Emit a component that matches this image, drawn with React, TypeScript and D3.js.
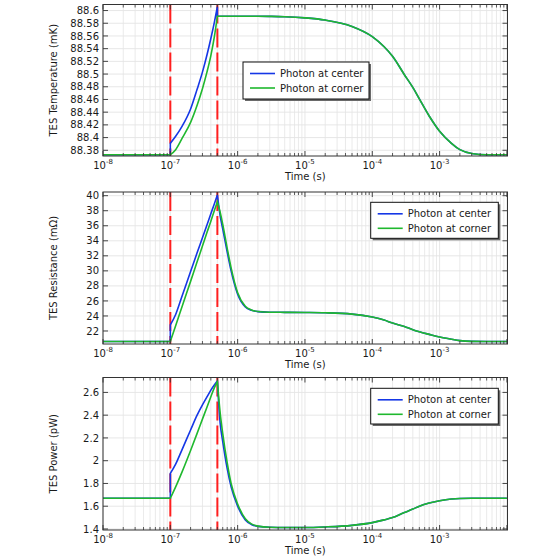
import React from 'react';
import * as d3 from 'd3';

// ---------- data ----------
const TIME = [1e-8, 1e-7, 1e-7, 1.2e-7, 1.5e-7, 2e-7, 2.5e-7, 3e-7, 3.5e-7, 4e-7, 4.5e-7, 5e-7, 5e-7,
  5.5e-7, 6e-7, 7e-7, 8e-7, 1e-6, 1.3e-6, 1.6e-6, 2e-6, 3e-6, 5e-6, 1e-5, 2e-5, 5e-5, 1e-4, 1.5e-4,
  2e-4, 3e-4, 4e-4, 5e-4, 7e-4, 1e-3, 1.5e-3, 2e-3, 3e-3, 5e-3, 1e-2];

const TEMP_CENTER = [88.373, 88.373, 88.391, 88.402, 88.418, 88.445, 88.476, 88.503, 88.530, 88.556, 88.581, 88.606, 88.591,
  88.591, 88.591, 88.591, 88.591, 88.591, 88.591, 88.591, 88.591, 88.5908, 88.5903, 88.5885, 88.585, 88.575, 88.559, 88.543,
  88.528, 88.499, 88.479, 88.461, 88.434, 88.410, 88.391, 88.381, 88.375, 88.373, 88.373];
const TEMP_CORNER = [88.373, 88.373, 88.373, 88.381, 88.399, 88.424, 88.451, 88.477, 88.503, 88.529, 88.558, 88.591, 88.591,
  88.591, 88.591, 88.591, 88.591, 88.591, 88.591, 88.591, 88.591, 88.5908, 88.5903, 88.5885, 88.585, 88.575, 88.559, 88.543,
  88.528, 88.499, 88.479, 88.461, 88.434, 88.410, 88.391, 88.381, 88.375, 88.373, 88.373];

const RES_CENTER = [20.6, 20.6, 22.8, 24.2, 26.7, 29.9, 32.4, 34.4, 36.1, 37.6, 38.9, 40.1, 40.1,
  37.3, 35.6, 32.5, 30.0, 26.9, 25.2, 24.75, 24.58, 24.5, 24.48, 24.46, 24.42, 24.25, 23.85, 23.45,
  23.05, 22.6, 22.17, 21.9, 21.55, 21.2, 20.9, 20.72, 20.62, 20.6, 20.6];
const RES_CORNER = [20.6, 20.6, 20.6, 22.7, 25.3, 28.6, 31.2, 33.3, 35.1, 36.6, 38.0, 39.2, 39.2,
  37.8, 36.2, 33.0, 30.4, 27.1, 25.3, 24.8, 24.6, 24.5, 24.48, 24.46, 24.42, 24.25, 23.85, 23.45,
  23.05, 22.6, 22.17, 21.9, 21.55, 21.2, 20.9, 20.72, 20.62, 20.6, 20.6];

const POW_CENTER = [1.67, 1.67, 1.888, 1.97, 2.10, 2.27, 2.40, 2.49, 2.56, 2.62, 2.665, 2.70, 2.70,
  2.33, 2.17, 1.93, 1.77, 1.60, 1.48, 1.44, 1.423, 1.415, 1.413, 1.413, 1.418, 1.432, 1.456, 1.48,
  1.50, 1.545, 1.575, 1.60, 1.628, 1.648, 1.663, 1.668, 1.67, 1.67, 1.67];
const POW_CORNER = [1.67, 1.67, 1.67, 1.77, 1.904, 2.09, 2.24, 2.365, 2.47, 2.562, 2.64, 2.695, 2.695,
  2.42, 2.24, 1.98, 1.80, 1.62, 1.49, 1.445, 1.425, 1.415, 1.413, 1.413, 1.418, 1.432, 1.456, 1.48,
  1.50, 1.545, 1.575, 1.60, 1.628, 1.648, 1.663, 1.668, 1.67, 1.67, 1.67];

const TEMP_TICKS = [88.38, 88.4, 88.42, 88.44, 88.46, 88.48, 88.5, 88.52, 88.54, 88.56, 88.58, 88.6];
const TEMP_LABELS = ['88.38', '88.4', '88.42', '88.44', '88.46', '88.48', '88.5', '88.52', '88.54', '88.56', '88.58', '88.6'];
const RES_TICKS = [22, 24, 26, 28, 30, 32, 34, 36, 38, 40];
const RES_LABELS = ['22', '24', '26', '28', '30', '32', '34', '36', '38', '40'];
const POW_TICKS = [1.4, 1.6, 1.8, 2, 2.2, 2.4, 2.6];
const POW_LABELS = ['1.4', '1.6', '1.8', '2', '2.2', '2.4', '2.6'];

const X_EXPONENTS = [-8, -7, -6, -5, -4, -3, -2];
const X_LABELED = [-8, -7, -6, -5, -4, -3];
const PULSE_TIMES = [1e-7, 5e-7];
const SERIES_NAMES = ['Photon at center', 'Photon at corner'];

const TEMP_DOMAIN = [88.371, 88.6095];
const RES_DOMAIN = [20.27, 40.49];
const POW_DOMAIN = [1.391, 2.731];
const X_DOMAIN = [1e-8, 1.02e-2];

// ---------- styles ----------
const FONT = '"DejaVu Sans", Verdana, sans-serif';
const BLUE = '#1537e6';
const GREEN = '#1fb82e';
const RED = '#ff1f1f';
const GRID = '#e4e4e4';
const FRAME = '#333333';
const TEXT = '#1a1a1a';

const X_LEFT = 103;
const X_RIGHT = 507.5;

type PanelProps = {
  top: number;
  bottom: number;
  domain: number[];
  ticks: number[];
  labels: string[];
  title: string;
  center: number[];
  corner: number[];
  legend: { x: number; y: number; w: number; h: number };
};

function buildPath(ts: number[], vs: number[], x: any, y: any) {
  const segs: [number, number][][] = [];
  let cur: [number, number][] = [];
  ts.forEach((t, i) => {
    if (i > 0 && t === ts[i - 1]) {
      segs.push(cur);
      cur = [];
    }
    cur.push([x(t), y(vs[i])]);
  });
  segs.push(cur);
  const gen = d3.line<[number, number]>().x(d => d[0]).y(d => d[1]).curve(d3.curveMonotoneX);
  return segs.map((s, i) => {
    const p = gen(s) || '';
    return i === 0 ? p : p.replace(/^M/, 'L');
  }).join('');
}

function Panel(props: PanelProps) {
  const { top, bottom, domain, ticks, labels, title, center, corner, legend } = props;
  const x = d3.scaleLog().domain(X_DOMAIN).range([X_LEFT, X_RIGHT]);
  const y = d3.scaleLinear().domain(domain).range([bottom, top]);
  const minors: number[] = [];
  X_EXPONENTS.forEach(e => {
    for (let k = 2; k <= 9; k++) {
      const v = k * Math.pow(10, e);
      if (v <= X_DOMAIN[1]) minors.push(v);
    }
  });
  const majors = X_EXPONENTS.map(e => Math.pow(10, e)).filter(v => v <= X_DOMAIN[1] * 1.0001);
  const midY = (top + bottom) / 2;
  const midX = (X_LEFT + X_RIGHT) / 2;
  return (
    <g>
      {/* grid */}
      {minors.map((v, i) => (
        <line key={'gm' + i} x1={x(v)} x2={x(v)} y1={top} y2={bottom} stroke={GRID} strokeWidth={0.8} />
      ))}
      {majors.map((v, i) => (
        <line key={'gM' + i} x1={x(v)} x2={x(v)} y1={top} y2={bottom} stroke={GRID} strokeWidth={0.9} />
      ))}
      {ticks.map((v, i) => (
        <line key={'gy' + i} x1={X_LEFT} x2={X_RIGHT} y1={y(v)} y2={y(v)} stroke={GRID} strokeWidth={0.9} />
      ))}
      {/* pulse markers */}
      {PULSE_TIMES.map((t, i) => (
        <line key={'p' + i} x1={x(t)} x2={x(t)} y1={top} y2={bottom} stroke={RED} strokeWidth={2}
          strokeDasharray="19 5" />
      ))}
      {/* curves */}
      <path d={buildPath(TIME, center, x, y)} fill="none" stroke={BLUE} strokeWidth={1.6} />
      <path d={buildPath(TIME, corner, x, y)} fill="none" stroke={GREEN} strokeWidth={1.6} />
      {/* frame */}
      <rect x={X_LEFT} y={top} width={X_RIGHT - X_LEFT} height={bottom - top} fill="none" stroke={FRAME} strokeWidth={1} />
      {/* x ticks */}
      {minors.map((v, i) => (
        <g key={'tm' + i}>
          <line x1={x(v)} x2={x(v)} y1={bottom} y2={bottom - 3} stroke={FRAME} strokeWidth={0.8} />
          <line x1={x(v)} x2={x(v)} y1={top} y2={top + 3} stroke={FRAME} strokeWidth={0.8} />
        </g>
      ))}
      {majors.map((v, i) => (
        <g key={'tM' + i}>
          <line x1={x(v)} x2={x(v)} y1={bottom} y2={bottom - 5} stroke={FRAME} strokeWidth={0.9} />
          <line x1={x(v)} x2={x(v)} y1={top} y2={top + 5} stroke={FRAME} strokeWidth={0.9} />
        </g>
      ))}
      {X_LABELED.map(e => (
        <text key={'xl' + e} x={x(Math.pow(10, e))} y={bottom + 13} textAnchor="middle" fontFamily={FONT}
          fontSize={10} fill={TEXT}>
          10<tspan dy={-5} fontSize={7}>{String(e)}</tspan>
        </text>
      ))}
      <text x={midX} y={bottom + 24} textAnchor="middle" fontFamily={FONT} fontSize={10} fill={TEXT}>Time (s)</text>
      {/* y ticks */}
      {ticks.map((v, i) => (
        <g key={'ty' + i}>
          <line x1={X_LEFT} x2={X_LEFT + 5} y1={y(v)} y2={y(v)} stroke={FRAME} strokeWidth={0.9} />
          <line x1={X_RIGHT} x2={X_RIGHT - 5} y1={y(v)} y2={y(v)} stroke={FRAME} strokeWidth={0.9} />
          <text x={X_LEFT - 4} y={y(v) + 3.6} textAnchor="end" fontFamily={FONT} fontSize={10} fill={TEXT}>
            {labels[i]}
          </text>
        </g>
      ))}
      <text transform={`translate(56.5,${midY}) rotate(-90)`} textAnchor="middle" fontFamily={FONT}
        fontSize={10} fill={TEXT}>{title}</text>
      {/* legend */}
      <rect x={legend.x + 2} y={legend.y + 2} width={legend.w} height={legend.h} fill="#6a6a6a" />
      <rect x={legend.x} y={legend.y} width={legend.w} height={legend.h} fill="#ffffff" stroke="#111" strokeWidth={1} />
      {SERIES_NAMES.map((name, i) => {
        const ry = legend.y + 11.5 + i * 14.5;
        return (
          <g key={'lg' + i}>
            <line x1={legend.x + 7} x2={legend.x + 32} y1={ry} y2={ry} stroke={i === 0 ? BLUE : GREEN} strokeWidth={1.6} />
            <text x={legend.x + 37} y={ry + 3.6} fontFamily={FONT} fontSize={10} fill={TEXT}>{name}</text>
          </g>
        );
      })}
    </g>
  );
}

export default function App() {
  return (
    <svg width={560} height={560} viewBox="0 0 560 560"
      style={{ position: 'absolute', left: 0, top: 0, display: 'block', background: '#fff' }}>
      <rect x={0} y={0} width={560} height={560} fill="#fff" />
      <Panel top={4.5} bottom={156} domain={TEMP_DOMAIN} ticks={TEMP_TICKS} labels={TEMP_LABELS}
        title="TES Temperature (mK)" center={TEMP_CENTER} corner={TEMP_CORNER}
        legend={{ x: 243, y: 62, w: 126, h: 37 }} />
      <Panel top={192} bottom={344} domain={RES_DOMAIN} ticks={RES_TICKS} labels={RES_LABELS}
        title="TES Resistance (mΩ)" center={RES_CENTER} corner={RES_CORNER}
        legend={{ x: 370.7, y: 202.3, w: 127.6, h: 36 }} />
      <Panel top={377.5} bottom={530} domain={POW_DOMAIN} ticks={POW_TICKS} labels={POW_LABELS}
        title="TES Power (pW)" center={POW_CENTER} corner={POW_CORNER}
        legend={{ x: 370.7, y: 388.3, w: 127.6, h: 35.7 }} />
    </svg>
  );
}
